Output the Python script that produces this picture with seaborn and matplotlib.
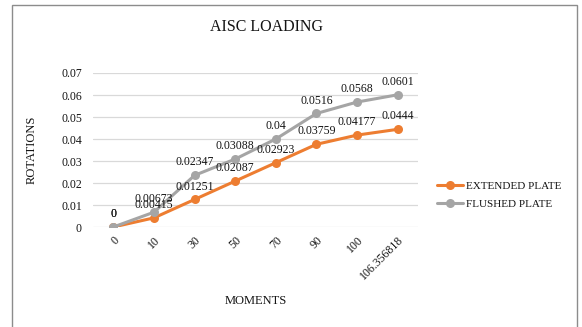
import matplotlib
matplotlib.use("Agg")
import matplotlib.pyplot as plt
from matplotlib.patches import Rectangle
import seaborn as sns
import pandas as pd

moments = ["0", "10", "30", "50", "70", "90", "100", "106.356818"]
extended_plate = [0, 0.00415, 0.01251, 0.02087, 0.02923, 0.03759, 0.04177, 0.0444]
flushed_plate = [0, 0.00673, 0.02347, 0.03088, 0.04, 0.0516, 0.0568, 0.0601]
series_names = ["EXTENDED PLATE", "FLUSHED PLATE"]
series_colors = ["#ED7D31", "#A5A5A5"]
y_ticks = [0, 0.01, 0.02, 0.03, 0.04, 0.05, 0.06, 0.07]
y_tick_labels = ["0", "0.01", "0.02", "0.03", "0.04", "0.05", "0.06", "0.07"]

sns.set_theme(style="white")
plt.rcParams["font.family"] = ["Liberation Serif", "DejaVu Serif"]

TEXT = "#141414"

df = pd.DataFrame({
    "MOMENTS": moments * 2,
    "ROTATIONS": extended_plate + flushed_plate,
    "series": [series_names[0]] * len(moments) + [series_names[1]] * len(moments),
})

W, H = 582, 327
fig = plt.figure(figsize=(W / 100, H / 100), dpi=100)
ax = fig.add_axes([93 / W, 1 - 227 / H, (418 - 93) / W, (227 - 73) / H])

# chart frame
fig.patches.append(Rectangle((12 / W, -0.05), (577 - 12) / W, 1 - 5 / H + 0.05,
                             transform=fig.transFigure, fill=False,
                             edgecolor="#8c8c8c", linewidth=1.0))

sns.lineplot(data=df, x="MOMENTS", y="ROTATIONS", hue="series",
             hue_order=series_names, palette=series_colors,
             marker="o", markersize=6.5, markeredgewidth=0,
             linewidth=2.2, ax=ax, sort=False)

# value labels above each point
for vals, name in zip([extended_plate, flushed_plate], series_names):
    for i, v in enumerate(vals):
        ax.annotate(f"{v:g}", (i, v), xytext=(0, 5), textcoords="offset points",
                    ha="center", va="bottom", fontsize=8.5, color=TEXT)

ax.set_ylim(0, 0.07)
ax.set_xlim(-0.5, len(moments) - 0.5)
ax.set_yticks(y_ticks)
ax.set_yticklabels(y_tick_labels)
ax.yaxis.grid(True, color="#D9D9D9", linewidth=0.9)
ax.set_axisbelow(True)
for s in ax.spines.values():
    s.set_visible(False)
ax.tick_params(axis="both", length=0, labelsize=8.5, colors=TEXT)
ax.tick_params(axis="y", pad=8)
plt.setp(ax.get_xticklabels(), rotation=45, ha="right", va="top",
         rotation_mode="anchor")
ax.tick_params(axis="x", pad=5)

ax.set_xlabel("MOMENTS", fontsize=9, color=TEXT)
ax.xaxis.set_label_coords(0.5, 1 - (295 - 73) / (227 - 73))
ax.set_ylabel("ROTATIONS", fontsize=9, color=TEXT)
ax.yaxis.set_label_coords(-(93 - 38) / (418 - 93), 0.5)

fig.text(266 / W, 1 - 27 / H, "AISC LOADING", ha="center", va="center",
         fontsize=11.5, color=TEXT)

leg = ax.legend(loc="center left", bbox_to_anchor=(437 / W, 1 - 195 / H),
                bbox_transform=fig.transFigure, frameon=False, fontsize=8,
                handlelength=2.3, handletextpad=0.3, labelspacing=0.7,
                borderpad=0, borderaxespad=0)
for t in leg.get_texts():
    t.set_color(TEXT)

fig.savefig("out.png", dpi=100)
